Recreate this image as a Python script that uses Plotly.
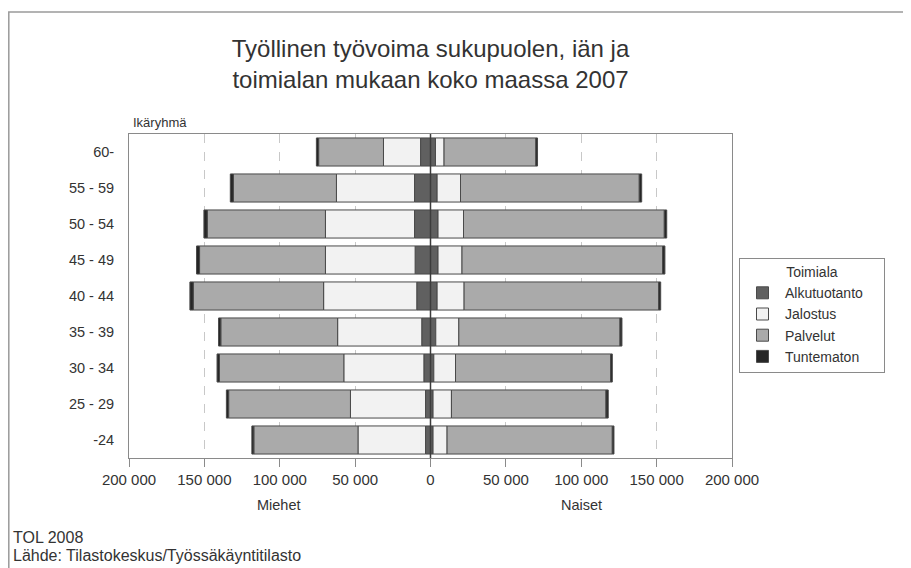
import plotly.graph_objects as go

# ---------------- data ----------------
ages = ["60-", "55 - 59", "50 - 54", "45 - 49", "40 - 44", "35 - 39", "30 - 34", "25 - 29", "-24"]
industries = ["Alkutuotanto", "Jalostus", "Palvelut", "Tuntematon"]

men_alkutuotanto = [6600, 10600, 10600, 10200, 9100, 5800, 4400, 3300, 3300]
men_jalostus = [24600, 51800, 59100, 59500, 61800, 55800, 53100, 49800, 44800]
men_palvelut = [43000, 68400, 78400, 83500, 86500, 77500, 82500, 80800, 69100]
men_tuntematon = [1500, 2000, 2200, 2000, 2200, 1500, 1600, 1500, 1300]

women_alkutuotanto = [3300, 4400, 5000, 5000, 4400, 3500, 2200, 1700, 1700]
women_jalostus = [5700, 15500, 16900, 15900, 17900, 15300, 14400, 12200, 9300]
women_palvelut = [60900, 118600, 133200, 133100, 129100, 106900, 102900, 102500, 109600]
women_tuntematon = [1100, 1600, 1600, 1500, 1300, 1300, 1100, 1500, 1100]

tick_values = [-200000, -150000, -100000, -50000, 0, 50000, 100000, 150000, 200000]
tick_labels = ["200 000", "150 000", "100 000", "50 000", "0", "50 000", "100 000", "150 000", "200 000"]

men = [men_alkutuotanto, men_jalostus, men_palvelut, men_tuntematon]
women = [women_alkutuotanto, women_jalostus, women_palvelut, women_tuntematon]
colors = ["#606060", "#f2f2f2", "#aaaaaa", "#262626"]

FONT = "Liberation Sans, Arial, Helvetica, sans-serif"
TXT = "#333333"
PAD = "\u00a0" * 4  # right padding inside the legend box

fig = go.Figure()
for name, m, w, c in zip(industries, men, women, colors):
    fig.add_trace(go.Bar(
        name=name + PAD,
        orientation="h",
        y=ages + ages,
        x=[-v for v in m] + list(w),
        marker=dict(color=c, line=dict(color="#4a4a4a", width=1)),
        width=0.78,
    ))

# the page body has an 8px margin, so positions below are page pixels minus 8
OFF = 8
W, H = 911 - OFF, 568 - OFF
ML, MR, MT, MB = 129 - OFF, W - (732 - OFF), 134 - OFF, H - (458 - OFF)
pw, ph = W - ML - MR, H - MT - MB

def px(x):
    return (x - OFF - ML) / pw

def py(y):
    return (H - MB - (y - OFF)) / ph

fig.update_layout(
    width=W, height=H,
    margin=dict(l=ML, r=MR, t=MT, b=MB, autoexpand=False),
    paper_bgcolor="white", plot_bgcolor="white",
    barmode="relative",
    font=dict(family=FONT, size=14, color=TXT),
    title=dict(
        text="Työllinen työvoima sukupuolen, iän ja<br>toimialan mukaan koko maassa 2007",
        x=(430.5 - OFF) / W, xanchor="center", y=1 - (57 - OFF) / H, yanchor="middle",
        font=dict(family=FONT, size=24, color=TXT),
    ),
    showlegend=True,
    legend=dict(
        title=dict(text="Toimiala", side="top center", font=dict(size=14)),
        x=px(739), xanchor="left", y=py(258), yanchor="top",
        bordercolor="#8a8a8a", borderwidth=1, bgcolor="white",
        font=dict(size=14, color=TXT), traceorder="normal",
        itemwidth=35, tracegroupgap=0,
    ),
    xaxis=dict(
        range=[-200000, 200000],
        tickvals=tick_values, ticktext=tick_labels,
        showgrid=True, gridcolor="#c8c8c8", griddash="dash", gridwidth=1,
        zeroline=False,
        showline=True, linecolor="#8a8a8a", linewidth=1, mirror=True,
        ticks="outside", ticklen=8, tickcolor="#8a8a8a",
        tickfont=dict(size=15, color=TXT),
        fixedrange=True,
    ),
    yaxis=dict(
        categoryorder="array", categoryarray=ages,
        autorange="reversed",
        showgrid=False, zeroline=False,
        showline=True, linecolor="#8a8a8a", linewidth=1, mirror=True,
        ticks="", ticklabelstandoff=11,
        tickfont=dict(size=14.5, color=TXT),
        fixedrange=True,
    ),
)

# zero reference line drawn over the bars
fig.add_shape(type="line", xref="x", yref="paper", x0=0, x1=0, y0=0, y1=1,
              line=dict(color="#3c3c3c", width=1.5), layer="above")
# outer frame
fig.add_shape(type="rect", xref="paper", yref="paper",
              x0=px(8.8), x1=px(904), y0=py(12), y1=py(580),
              line=dict(color="#9a9a9a", width=1.5), layer="below")

annos = [
    dict(text="Ikäryhmä", x=px(131), y=py(122), xanchor="left", size=13),
    dict(text="Miehet", x=px(279), y=py(505), xanchor="center", size=14.5),
    dict(text="Naiset", x=px(581), y=py(505), xanchor="center", size=14.5),
    dict(text="TOL 2008", x=px(11), y=py(537), xanchor="left", size=16),
    dict(text="Lähde: Tilastokeskus/Työssäkäyntitilasto", x=px(11), y=py(555), xanchor="left", size=16),
]
for a in annos:
    fig.add_annotation(text=a["text"], xref="paper", yref="paper", x=a["x"], y=a["y"],
                       xanchor=a["xanchor"], yanchor="middle", showarrow=False,
                       font=dict(family=FONT, size=a["size"], color=TXT))

fig.write_html("out.html")
